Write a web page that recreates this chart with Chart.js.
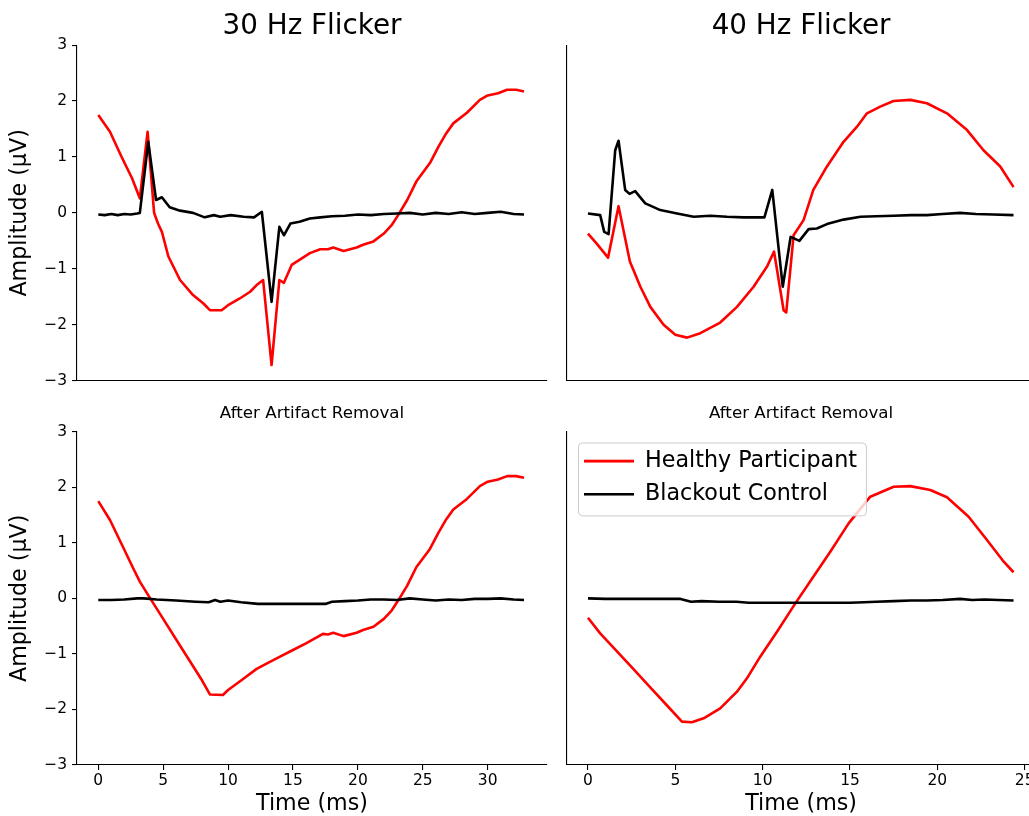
<!DOCTYPE html>
<html>
<head>
<meta charset="utf-8">
<title>30 Hz / 40 Hz Flicker</title>
<script src="https://cdn.jsdelivr.net/npm/chart.js@4"></script>
<style>
  html, body { margin: 0; padding: 0; background: #fff; overflow: hidden; }
  #figure { position: relative; width: 1029px; height: 816px; overflow: hidden; background: #fff; }
  #figure canvas { position: absolute; }
</style>
</head>
<body>
<div id="figure">
  <canvas id="rawChart30" width="560" height="395" style="left:0px;top:0px"></canvas>
  <canvas id="rawChart40" width="480" height="395" style="left:560px;top:0px"></canvas>
  <canvas id="cleanChart30" width="560" height="430" style="left:0px;top:395px"></canvas>
  <canvas id="cleanChart40" width="480" height="430" style="left:560px;top:395px"></canvas>
</div>
<script>
const Y_TICKS = [-3, -2, -1, 0, 1, 2, 3];
const X_TICKS_30 = [0, 5, 10, 15, 20, 25, 30];
const X_TICKS_40 = [0, 5, 10, 15, 20, 25];

// 30 Hz flicker, raw
const raw30HealthyT = [0, 0.9, 1.8, 2.6, 3.2, 3.8, 4.3, 4.6, 4.9, 5.4, 6.3, 7.3, 8.1, 8.6, 9.5, 10.0, 10.9, 11.7, 12.2, 12.7, 13.35, 13.95, 14.3, 14.9, 15.5, 16.3, 17.1, 17.7, 18.1, 18.9, 19.9, 20.4, 21.2, 22.0, 22.6, 23.1, 23.8, 24.5, 25.55, 26.2, 26.8, 27.35, 28.4, 29.4, 30.0, 30.8, 31.5, 32.2, 32.8];
const raw30HealthyV = [1.75, 1.45, 1.0, 0.62, 0.26, 1.45, 0.0, -0.19, -0.34, -0.78, -1.2, -1.47, -1.62, -1.74, -1.74, -1.65, -1.53, -1.41, -1.29, -1.2, -2.72, -1.2, -1.25, -0.93, -0.84, -0.72, -0.65, -0.65, -0.62, -0.68, -0.62, -0.57, -0.51, -0.37, -0.22, -0.04, 0.23, 0.56, 0.89, 1.18, 1.42, 1.6, 1.79, 2.02, 2.1, 2.14, 2.2, 2.2, 2.17];
const raw30BlackoutT = [0, 0.5, 1.0, 1.5, 2.0, 2.5, 3.0, 3.2, 3.85, 4.45, 4.9, 5.5, 6.3, 7.3, 8.2, 8.9, 9.4, 10.2, 11.2, 12.0, 12.6, 13.35, 13.95, 14.3, 14.8, 15.5, 16.3, 17.1, 18, 19, 20, 21, 22, 23, 24, 25, 26, 27, 28, 29, 30, 31, 32, 32.8];
const raw30BlackoutV = [-0.03, -0.04, -0.02, -0.04, -0.02, -0.03, -0.01, 0.0, 1.27, 0.23, 0.28, 0.1, 0.04, 0.0, -0.08, -0.04, -0.07, -0.04, -0.07, -0.08, 0.02, -1.59, -0.25, -0.4, -0.19, -0.16, -0.1, -0.08, -0.06, -0.05, -0.03, -0.04, -0.02, -0.01, 0.0, -0.03, 0.0, -0.02, 0.01, -0.02, 0.0, 0.02, -0.02, -0.03];

// 40 Hz flicker, raw
const raw40HealthyT = [0, 0.5, 1.15, 1.75, 2.4, 3.0, 3.57, 4.33, 5.0, 5.67, 6.43, 7.57, 8.53, 9.48, 10.25, 10.65, 11.2, 11.35, 11.77, 12.34, 12.9, 13.68, 14.63, 15.4, 15.97, 16.73, 17.49, 18.45, 19.4, 20.55, 21.7, 22.64, 23.6, 24.36];
const raw40HealthyV = [-0.37, -0.55, -0.8, 0.12, -0.87, -1.32, -1.68, -2.0, -2.18, -2.23, -2.15, -1.96, -1.68, -1.32, -0.96, -0.69, -1.74, -1.78, -0.4, -0.13, 0.41, 0.83, 1.27, 1.54, 1.78, 1.9, 2.0, 2.02, 1.96, 1.78, 1.48, 1.12, 0.83, 0.46];
const raw40BlackoutT = [0, 0.7, 0.93, 1.18, 1.56, 1.75, 2.13, 2.38, 2.7, 3.28, 4.14, 5.1, 6.05, 7.0, 7.96, 8.9, 10.1, 10.55, 11.15, 11.6, 12.1, 12.63, 13.1, 13.68, 14.63, 15.6, 16.5, 17.5, 18.5, 19.4, 20.3, 21.3, 22.2, 23.2, 24.36];
const raw40BlackoutV = [-0.01, -0.04, -0.34, -0.38, 1.12, 1.29, 0.41, 0.34, 0.39, 0.17, 0.05, -0.01, -0.07, -0.05, -0.07, -0.08, -0.08, 0.41, -1.32, -0.43, -0.5, -0.29, -0.28, -0.2, -0.12, -0.07, -0.06, -0.05, -0.04, -0.04, -0.02, 0.0, -0.02, -0.03, -0.04];

// 30 Hz flicker, after artifact removal
const clean30HealthyT = [0, 0.9, 1.83, 2.67, 3.2, 4.0, 5.0, 6.0, 7.0, 8.0, 8.6, 9.6, 10.0, 11.0, 12.2, 13.0, 14.0, 15.0, 16.0, 17.0, 17.3, 17.7, 18.1, 18.9, 19.9, 20.4, 21.2, 22.0, 22.6, 23.1, 23.8, 24.5, 25.55, 26.2, 26.8, 27.35, 28.4, 29.4, 30.0, 30.8, 31.5, 32.2, 32.8];
const clean30HealthyV = [1.75, 1.41, 0.96, 0.55, 0.3, 0.0, -0.37, -0.74, -1.11, -1.48, -1.73, -1.74, -1.65, -1.48, -1.27, -1.17, -1.05, -0.93, -0.81, -0.68, -0.64, -0.65, -0.62, -0.68, -0.62, -0.57, -0.51, -0.37, -0.22, -0.04, 0.23, 0.56, 0.89, 1.18, 1.42, 1.6, 1.79, 2.02, 2.1, 2.14, 2.2, 2.2, 2.17];
const clean30BlackoutT = [0, 1, 2, 3, 3.5, 4.5, 6, 7.5, 8.5, 9.0, 9.4, 10, 11, 12.3, 14, 16, 17.5, 18, 19, 20, 21, 22, 23, 24, 25, 26, 27, 28, 29, 30, 31, 32, 32.8];
const clean30BlackoutV = [-0.03, -0.03, -0.02, 0.0, 0.0, -0.02, -0.04, -0.06, -0.07, -0.03, -0.06, -0.04, -0.07, -0.1, -0.1, -0.1, -0.1, -0.06, -0.05, -0.04, -0.02, -0.02, -0.03, 0.0, -0.02, -0.04, -0.02, -0.03, -0.01, -0.01, 0.0, -0.02, -0.03];

// 40 Hz flicker, after artifact removal
const clean40HealthyT = [0, 0.7, 1.5, 2.5, 3.5, 4.5, 5.38, 5.95, 6.62, 7.57, 8.53, 9.1, 9.86, 10.82, 11.87, 12.9, 13.87, 14.92, 16.16, 17.5, 18.45, 19.6, 20.55, 21.79, 22.84, 23.8, 24.36];
const clean40HealthyV = [-0.35, -0.63, -0.9, -1.24, -1.58, -1.92, -2.22, -2.23, -2.16, -1.98, -1.68, -1.44, -1.05, -0.6, -0.09, 0.39, 0.84, 1.35, 1.83, 2.01, 2.02, 1.95, 1.82, 1.47, 1.05, 0.66, 0.47];
const clean40BlackoutT = [0, 1, 2, 3, 4, 5.3, 5.9, 6.5, 7.5, 8.5, 9.2, 10, 11, 12, 13, 14, 15, 15.8, 16.5, 17.5, 18.5, 19.4, 20.3, 21.3, 22, 22.7, 23.5, 24.36];
const clean40BlackoutV = [0.0, -0.01, -0.01, -0.01, -0.01, -0.01, -0.06, -0.05, -0.06, -0.06, -0.08, -0.08, -0.08, -0.08, -0.08, -0.08, -0.08, -0.07, -0.06, -0.05, -0.04, -0.04, -0.03, -0.01, -0.03, -0.02, -0.03, -0.04];

const RED = "#ff0000";
const BLACK = "#000000";
const FONT = "'DejaVu Sans', sans-serif";

Chart.defaults.font.family = FONT;
Chart.defaults.color = "#000";
Chart.defaults.animation = false;

function toPoints(times, values) {
  return times.map((t, i) => ({ x: t, y: values[i] }));
}

function tickText(value) {
  return value < 0 ? "\u2212" + Math.abs(value) : String(value);
}

// matplotlib-style legend frame, painted over the traces, then the legend again on top
const legendFrame = {
  id: "legendFrame",
  afterLayout(chart) {
    const legend = chart.legend;
    if (!legend) return;
    const area = chart.chartArea;
    legend.left = area.left + 6;
    legend.top = area.top + 7.3;
    legend.right = area.right;
    legend.bottom = area.bottom;
  },
  afterDatasetsDraw(chart) {
    const legend = chart.legend;
    if (!legend || !legend.legendHitBoxes || !legend.legendHitBoxes.length) return;
    const boxes = legend.legendHitBoxes;
    const left = Math.min(...boxes.map((b) => b.left)) - 6;
    const top = Math.min(...boxes.map((b) => b.top)) - 7.5;
    const right = Math.max(...boxes.map((b) => b.left + b.width)) + 9;
    const bottom = Math.max(...boxes.map((b) => b.top + b.height)) + 10;
    const ctx = chart.ctx;
    ctx.save();
    ctx.beginPath();
    ctx.roundRect(left + 0.5, top + 0.5, right - left, bottom - top, 4);
    ctx.fillStyle = "rgba(255, 255, 255, 0.8)";
    ctx.fill();
    ctx.strokeStyle = "#cccccc";
    ctx.lineWidth = 1;
    ctx.stroke();
    ctx.restore();
    legend.draw();
  },
};

function traceStyle(color, order) {
  return {
    borderColor: color,
    backgroundColor: color,
    borderWidth: 2.6,
    borderJoinStyle: "round",
    pointRadius: 0,
    pointHoverRadius: 0,
    fill: false,
    tension: 0,
    order,
  };
}

function panelChart(canvasId, panel) {
  const canvas = document.getElementById(canvasId);
  const xTicks = panel.xTicks;
  return new Chart(canvas, {
    type: "line",
    data: {
      datasets: [
        { label: "Healthy Participant", data: toPoints(panel.healthy[0], panel.healthy[1]), ...traceStyle(RED, 1) },
        { label: "Blackout Control", data: toPoints(panel.blackout[0], panel.blackout[1]), ...traceStyle(BLACK, 0) },
      ],
    },
    plugins: panel.legend ? [legendFrame] : [],
    options: {
      responsive: false,
      animation: false,
      events: [],
      layout: { padding: panel.padding },
      plugins: {
        tooltip: { enabled: false },
        title: {
          display: true,
          text: panel.title,
          fullSize: false,
          color: "#000",
          font: { size: panel.titleSize, weight: "normal", family: FONT },
          padding: panel.titlePadding,
        },
        legend: panel.legend
          ? {
              display: true,
              position: "chartArea",
              align: "start",
              labels: {
                usePointStyle: true,
                pointStyle: "line",
                pointStyleWidth: 50,
                padding: 11,
                color: "#000",
                font: { size: 22.2, family: FONT },
                sort: (a, b) => a.datasetIndex - b.datasetIndex,
              },
            }
          : { display: false },
      },
      scales: {
        x: {
          type: "linear",
          position: "bottom",
          min: panel.xMin,
          max: panel.xMax,
          afterBuildTicks: (scale) => {
            if (xTicks) scale.ticks = xTicks.map((value) => ({ value }));
          },
          afterFit: (scale) => {
            scale.height = panel.xAxisHeight;
          },
          border: { display: true, color: "#000", width: 1.1 },
          grid: {
            display: !!xTicks,
            drawOnChartArea: false,
            drawTicks: true,
            tickLength: 5,
            color: "#000",
            lineWidth: 1.1,
          },
          ticks: {
            display: !!xTicks,
            padding: 2,
            maxRotation: 0,
            autoSkip: false,
            color: "#000",
            font: { size: 15.5 },
            callback: (value) => tickText(value),
          },
          title: {
            display: !!xTicks,
            text: "Time (ms)",
            color: "#000",
            font: { size: 22.2, weight: "normal" },
            padding: { top: 0, bottom: 7.7 },
          },
        },
        y: {
          type: "linear",
          position: "left",
          min: -3,
          max: 3,
          afterBuildTicks: (scale) => {
            scale.ticks = Y_TICKS.map((value) => ({ value }));
          },
          afterFit: (scale) => {
            scale.width = panel.yAxisWidth;
          },
          border: { display: true, color: "#000", width: 1.1 },
          grid: {
            display: panel.showY,
            drawOnChartArea: false,
            drawTicks: true,
            tickLength: 5,
            color: "#000",
            lineWidth: 1.1,
          },
          ticks: {
            display: panel.showY,
            padding: 5,
            color: "#000",
            font: { size: 15.5 },
            callback: (value) => tickText(value),
          },
          title: {
            display: panel.showY,
            text: "Amplitude (\u03bcV)",
            color: "#000",
            font: { size: 22.2, weight: "normal" },
            padding: { top: 7.1, bottom: 0 },
          },
        },
      },
    },
  });
}

panelChart("rawChart30", {
  title: "30 Hz Flicker",
  titleSize: 27.8,
  titlePadding: { top: 10.3, bottom: 1.4 },
  padding: { left: 0, top: 0, right: 13, bottom: 14.3 },
  healthy: [raw30HealthyT, raw30HealthyV],
  blackout: [raw30BlackoutT, raw30BlackoutV],
  xMin: -1.64,
  xMax: 34.57,
  xTicks: null,
  xAxisHeight: 0,
  yAxisWidth: 77,
  showY: true,
  legend: false,
});

panelChart("rawChart40", {
  title: "40 Hz Flicker",
  titleSize: 27.8,
  titlePadding: { top: 10.3, bottom: 1.4 },
  padding: { left: 0, top: 0, right: 4.8, bottom: 14.3 },
  healthy: [raw40HealthyT, raw40HealthyV],
  blackout: [raw40BlackoutT, raw40BlackoutV],
  xMin: -1.2,
  xMax: 25.6,
  xTicks: null,
  xAxisHeight: 0,
  yAxisWidth: 7,
  showY: false,
  legend: false,
});

panelChart("cleanChart30", {
  title: "After Artifact Removal",
  titleSize: 16.7,
  titlePadding: { top: 9, bottom: 7.66 },
  padding: { left: 0, top: 0, right: 13, bottom: 0 },
  healthy: [clean30HealthyT, clean30HealthyV],
  blackout: [clean30BlackoutT, clean30BlackoutV],
  xMin: -1.64,
  xMax: 34.57,
  xTicks: X_TICKS_30,
  xAxisHeight: 60,
  yAxisWidth: 77,
  showY: true,
  legend: false,
});

panelChart("cleanChart40", {
  title: "After Artifact Removal",
  titleSize: 16.7,
  titlePadding: { top: 9, bottom: 7.66 },
  padding: { left: 0, top: 0, right: 4.8, bottom: 0 },
  healthy: [clean40HealthyT, clean40HealthyV],
  blackout: [clean40BlackoutT, clean40BlackoutV],
  xMin: -1.2,
  xMax: 25.6,
  xTicks: X_TICKS_40,
  xAxisHeight: 60,
  yAxisWidth: 7,
  showY: false,
  legend: true,
});
</script>
</body>
</html>
